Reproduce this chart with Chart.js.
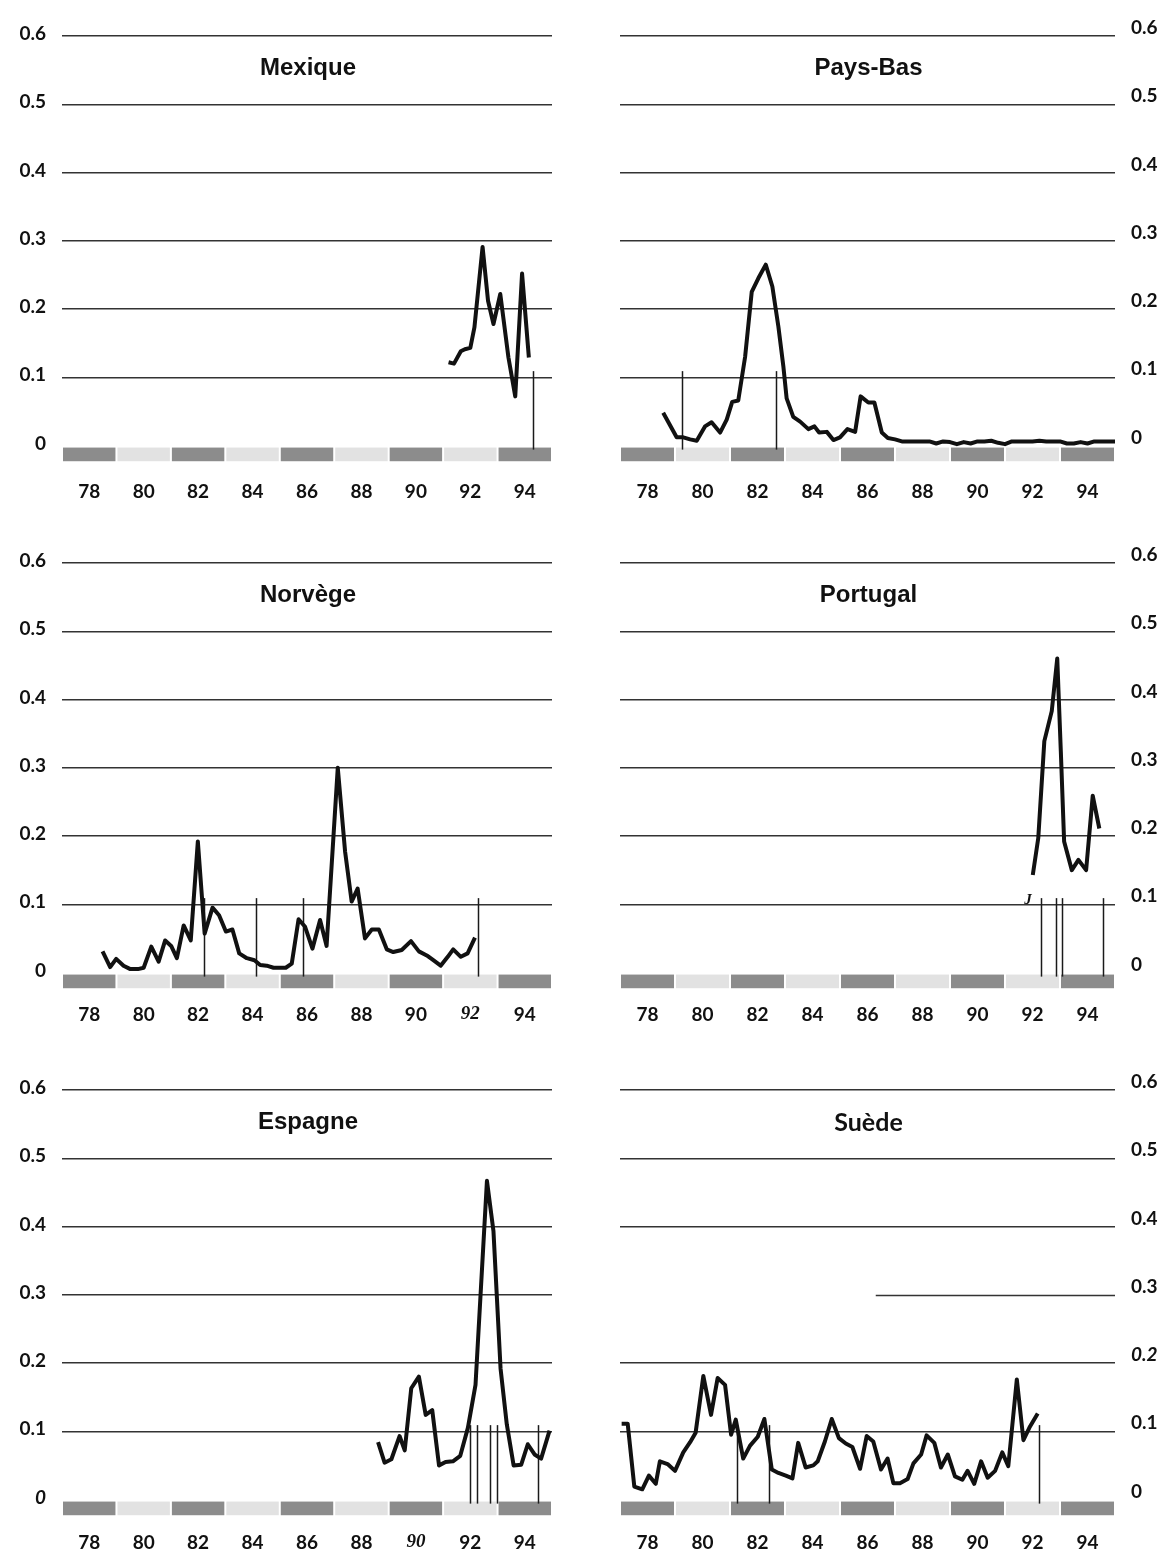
<!DOCTYPE html>
<html><head><meta charset="utf-8">
<script src="https://cdn.jsdelivr.net/npm/chart.js@4.4.1/dist/chart.umd.min.js"></script>
<style>
html,body{margin:0;padding:0;background:#fff;}
body{width:1170px;height:1551px;position:relative;overflow:hidden;}
.panel{position:absolute;}
canvas{display:block;}
</style></head><body>
<div class="panel" style="left:0;top:0;width:580px;height:527px"><canvas id="c0" width="580" height="527"></canvas></div>
<div class="panel" style="left:580px;top:0;width:590px;height:527px"><canvas id="c1" width="590" height="527"></canvas></div>
<div class="panel" style="left:0;top:527px;width:580px;height:527px"><canvas id="c2" width="580" height="527"></canvas></div>
<div class="panel" style="left:580px;top:527px;width:590px;height:527px"><canvas id="c3" width="590" height="527"></canvas></div>
<div class="panel" style="left:0;top:1054px;width:580px;height:497px"><canvas id="c4" width="580" height="497"></canvas></div>
<div class="panel" style="left:580px;top:1054px;width:590px;height:497px"><canvas id="c5" width="590" height="497"></canvas></div>
<script>
// ---- axis ticks & bands ----
const xTickValues = [78, 80, 82, 84, 86, 88, 90, 92, 94];
const xTickLabels = ['78', '80', '82', '84', '86', '88', '90', '92', '94'];
const yTickValues = [0, 0.1, 0.2, 0.3, 0.4, 0.5, 0.6];
const yTickLabels = ['0', '0.1', '0.2', '0.3', '0.4', '0.5', '0.6'];
const bandStarts = [77, 79, 81, 83, 85, 87, 89, 91, 93];
const bandEnds   = [79, 81, 83, 85, 87, 89, 91, 93, 95];
const bandShades = ['dark', 'light', 'dark', 'light', 'dark', 'light', 'dark', 'light', 'dark'];

// ---- Mexique ----
const mexDates  = [91.2, 91.4, 91.65, 91.8, 92.0, 92.15, 92.45, 92.65, 92.85, 93.1, 93.4, 93.65, 93.9, 94.15];
const mexValues = [0.122, 0.120, 0.138, 0.141, 0.143, 0.173, 0.291, 0.212, 0.178, 0.222, 0.129, 0.072, 0.252, 0.129];
const mexMarkers = [94.3];

// ---- Pays-Bas ----
const nlDates = [78.57, 79.06, 79.30, 79.55, 79.79, 80.09, 80.33, 80.64, 80.88, 81.08, 81.30, 81.55, 81.79, 82.03, 82.30,
  82.54, 82.76, 82.94, 83.06, 83.30, 83.55, 83.85, 84.07, 84.24, 84.52, 84.76, 85.0, 85.27, 85.55, 85.75, 86.03, 86.25,
  86.52, 86.74, 87.0, 87.25, 87.5, 87.75, 88.0, 88.25, 88.5, 88.75, 89.0, 89.25, 89.5, 89.75, 90.0, 90.25, 90.5, 90.75,
  91.0, 91.25, 91.5, 91.75, 92.0, 92.25, 92.5, 92.75, 93.0, 93.25, 93.5, 93.75, 94.0, 94.25, 94.5, 94.75, 95.0];
const nlValues = [0.048, 0.012, 0.012, 0.009, 0.007, 0.028, 0.034, 0.019, 0.038, 0.064, 0.066, 0.130, 0.225, 0.245, 0.265,
  0.233, 0.174, 0.116, 0.069, 0.042, 0.035, 0.024, 0.028, 0.019, 0.020, 0.008, 0.012, 0.024, 0.020, 0.072, 0.063, 0.063,
  0.019, 0.011, 0.009, 0.006, 0.006, 0.006, 0.006, 0.006, 0.003, 0.006, 0.005, 0.002, 0.005, 0.003, 0.006, 0.006, 0.007, 0.004,
  0.002, 0.006, 0.006, 0.006, 0.006, 0.007, 0.006, 0.006, 0.006, 0.003, 0.003, 0.005, 0.003, 0.006, 0.006, 0.006, 0.006];
const nlMarkers = [79.27, 82.66];

// ---- Norvège ----
const noDates = [78.49, 78.77, 78.99, 79.26, 79.51, 79.79, 80.0, 80.28, 80.55, 80.79, 81.01, 81.22, 81.47, 81.73, 81.99,
  82.24, 82.53, 82.77, 83.02, 83.26, 83.51, 83.79, 84.07, 84.28, 84.52, 84.77, 85.01, 85.22, 85.44, 85.69, 85.93, 86.20,
  86.48, 86.72, 87.13, 87.40, 87.64, 87.86, 88.13, 88.38, 88.64, 88.93, 89.17, 89.48, 89.82, 90.11, 90.40, 90.64, 90.91,
  91.17, 91.37, 91.65, 91.90, 92.17];
const noValues = [0.031, 0.008, 0.020, 0.010, 0.005, 0.005, 0.007, 0.038, 0.016, 0.047, 0.039, 0.021, 0.069, 0.047, 0.192,
  0.057, 0.095, 0.084, 0.060, 0.063, 0.028, 0.021, 0.018, 0.011, 0.010, 0.007, 0.007, 0.007, 0.013, 0.078, 0.067, 0.035,
  0.077, 0.039, 0.300, 0.177, 0.104, 0.123, 0.050, 0.063, 0.063, 0.034, 0.030, 0.033, 0.046, 0.031, 0.025, 0.018, 0.010,
  0.023, 0.034, 0.023, 0.028, 0.051];
const noMarkers = [82.2, 84.13, 85.84, 92.27];

// ---- Portugal ----
const ptDates  = [92.01, 92.21, 92.43, 92.70, 92.90, 93.03, 93.15, 93.43, 93.67, 93.95, 94.19, 94.43];
const ptValues = [0.143, 0.197, 0.339, 0.383, 0.460, 0.324, 0.192, 0.150, 0.165, 0.150, 0.259, 0.211];
const ptMarkers = [92.3, 92.84, 93.06, 94.55];

// ---- Espagne ----
const esDates = [88.61, 88.85, 89.10, 89.40, 89.59, 89.83, 90.11, 90.36, 90.60, 90.85, 91.09, 91.36, 91.63, 91.91, 92.19,
  92.61, 92.85, 93.11, 93.34, 93.59, 93.87, 94.11, 94.36, 94.60, 94.91];
const esValues = [0.084, 0.054, 0.059, 0.093, 0.072, 0.163, 0.180, 0.124, 0.131, 0.050, 0.055, 0.056, 0.064, 0.105, 0.168,
  0.467, 0.393, 0.192, 0.110, 0.050, 0.051, 0.081, 0.066, 0.060, 0.101];
const esMarkers = [92.0, 92.24, 92.73, 92.97, 94.48];

// ---- Suède ----
const seDates = [77.06, 77.28, 77.52, 77.81, 78.05, 78.30, 78.45, 78.73, 79.0, 79.30, 79.55, 79.75, 80.03, 80.31, 80.55,
  80.82, 81.04, 81.21, 81.48, 81.73, 82.01, 82.25, 82.52, 82.76, 83.03, 83.27, 83.48, 83.75, 84.03, 84.19, 84.45, 84.70,
  84.96, 85.21, 85.45, 85.73, 85.97, 86.21, 86.49, 86.73, 86.94, 87.18, 87.46, 87.67, 87.95, 88.15, 88.43, 88.67, 88.92,
  89.18, 89.45, 89.64, 89.88, 90.13, 90.37, 90.64, 90.90, 91.12, 91.43, 91.67, 91.91, 92.19];
const seValues = [0.111, 0.111, 0.019, 0.015, 0.035, 0.023, 0.056, 0.052, 0.042, 0.069, 0.084, 0.098, 0.181, 0.124, 0.178,
  0.168, 0.095, 0.117, 0.060, 0.079, 0.092, 0.118, 0.044, 0.039, 0.035, 0.031, 0.083, 0.047, 0.050, 0.056, 0.085, 0.118,
  0.090, 0.082, 0.077, 0.045, 0.093, 0.085, 0.044, 0.060, 0.024, 0.024, 0.030, 0.053, 0.066, 0.094, 0.083, 0.047, 0.066,
  0.034, 0.029, 0.042, 0.023, 0.056, 0.032, 0.042, 0.069, 0.049, 0.176, 0.087, 0.107, 0.126];
const seMarkers = [81.24, 82.42, 92.24];

const TICK_FONT = 'Lato';
const TICK_SIZE = 19;

const panelPlugin = {
  id: 'panel',
  beforeDatasetsDraw(chart, args, o) {
    const ctx = chart.ctx, xs = chart.scales.x, ys = chart.scales.y, ca = chart.chartArea;
    ctx.save();
    if (o.partialGrid) {
      ctx.strokeStyle = '#333'; ctx.lineWidth = 1.4;
      const y = Math.round(ys.getPixelForValue(o.partialGrid.value)) + 0.5;
      ctx.beginPath();
      ctx.moveTo(xs.getPixelForValue(o.partialGrid.from), y);
      ctx.lineTo(ca.right, y);
      ctx.stroke();
    }
    const yt = ys.getPixelForValue(-0.003), yb = ys.getPixelForValue(-0.023);
    bandStarts.forEach((s, i) => {
      const x0 = xs.getPixelForValue(s), x1 = xs.getPixelForValue(bandEnds[i]);
      ctx.fillStyle = bandShades[i] === 'dark' ? '#8c8c8c' : '#e2e2e2';
      ctx.fillRect(x0 + 1, yt, x1 - x0 - 2, yb - yt);
    });
    ctx.strokeStyle = '#1a1a1a'; ctx.lineWidth = 1.5;
    o.markers.forEach(m => {
      const x = Math.round(xs.getPixelForValue(m)) + 0.5;
      ctx.beginPath();
      ctx.moveTo(x, ys.getPixelForValue(0.109));
      ctx.lineTo(x, ys.getPixelForValue(-0.006));
      ctx.stroke();
    });
    ctx.restore();
  },
  afterDraw(chart, args, o) {
    const ctx = chart.ctx, xs = chart.scales.x, ys = chart.scales.y, ca = chart.chartArea;
    ctx.save();
    ctx.fillStyle = '#111';
    ctx.font = o.titleFont;
    ctx.textAlign = 'center';
    ctx.textBaseline = 'middle';
    ctx.fillText(o.title, (ca.left + ca.right) / 2 + 1, ys.getPixelForValue(0.552));
    (o.extra || []).forEach(t => {
      ctx.font = 'italic bold 15px "Liberation Serif"';
      ctx.fillText(t.text, xs.getPixelForValue(t.x), ys.getPixelForValue(t.y));
    });
    ctx.restore();
  }
};

function makeChart(id, cfg) {
  const left = cfg.side === 'left';
  new Chart(document.getElementById(id), {
    type: 'line',
    data: {
      datasets: [{
        data: cfg.dates.map((d, i) => ({ x: d, y: cfg.values[i] })),
        borderColor: '#111', borderWidth: 4, pointRadius: 0, tension: 0, fill: false,
        borderJoinStyle: 'round', borderCapStyle: 'butt'
      }]
    },
    options: {
      responsive: false, animation: false, devicePixelRatio: 1,
      layout: { padding: { top: 36, left: left ? 0 : 40, right: left ? 28 : 0, bottom: 0 } },
      plugins: {
        legend: { display: false }, tooltip: { enabled: false }, title: { display: false },
        panel: { title: cfg.title, titleFont: cfg.titleFont || 'bold 24px "Liberation Sans"', markers: cfg.markers,
                 partialGrid: cfg.partialGrid, extra: cfg.extra }
      },
      scales: {
        x: {
          type: 'linear', min: 77, max: 95,
          afterBuildTicks: s => { s.ticks = xTickValues.map(v => ({ value: v })); },
          afterFit: s => { s.height = cfg.xHeight; },
          grid: { display: false, drawTicks: false }, border: { display: false },
          ticks: {
            autoSkip: false, maxRotation: 0, padding: cfg.xPad, color: '#111',
            callback: (v, i) => xTickLabels[i],
            font: c => ({ family: (cfg.italicX || []).includes(xTickLabels[c.index]) ? 'Liberation Serif' : TICK_FONT,
                          size: TICK_SIZE, weight: 'bold',
                          style: (cfg.italicX || []).includes(xTickLabels[c.index]) ? 'italic' : 'normal' })
          }
        },
        y: {
          position: cfg.side, min: -0.03, max: 0.6,
          afterBuildTicks: s => { s.ticks = yTickValues.map(v => ({ value: v })); },
          afterFit: s => { s.width = left ? 62 : 55; },
          grid: {
            drawTicks: false, lineWidth: 1.4,
            color: c => (c.tick.value === 0 || (cfg.partialGrid && Math.abs(c.tick.value - cfg.partialGrid.value) < 1e-6)) ? 'rgba(0,0,0,0)' : '#333'
          },
          border: { display: false },
          ticks: {
            padding: 16, labelOffset: left ? -2 : -8, color: '#111',
            callback: (v, i) => yTickLabels[i],
            font: c => ({ family: TICK_FONT, size: TICK_SIZE, weight: 'bold',
                          style: (cfg.italicY || []).includes(yTickLabels[c.index]) ? 'italic' : 'normal' })
          }
        }
      }
    },
    plugins: [panelPlugin]
  });
}

makeChart('c0', { side: 'left', title: 'Mexique', dates: mexDates, values: mexValues, markers: mexMarkers, xPad: 14, xHeight: 61 });
makeChart('c1', { side: 'right', title: 'Pays-Bas', dates: nlDates, values: nlValues, markers: nlMarkers, xPad: 14, xHeight: 61 });
makeChart('c2', { side: 'left', title: 'Norvège', dates: noDates, values: noValues, markers: noMarkers, xPad: 10, xHeight: 61, italicX: ['92'] });
makeChart('c3', { side: 'right', title: 'Portugal', dates: ptDates, values: ptValues, markers: ptMarkers, xPad: 10, xHeight: 61,
  extra: [{ text: 'J', x: 91.84, y: 0.106 }] });
makeChart('c4', { side: 'left', title: 'Espagne', dates: esDates, values: esValues, markers: esMarkers, xPad: 11, xHeight: 31, italicX: ['90'], italicY: ['0'] });
makeChart('c5', { side: 'right', title: 'Suède', titleFont: 'bold 25px Lato', dates: seDates, values: seValues, markers: seMarkers, xPad: 11, xHeight: 31,
  italicY: ['0.2'], partialGrid: { value: 0.3, from: 86.3 } });
</script>
</body></html>
